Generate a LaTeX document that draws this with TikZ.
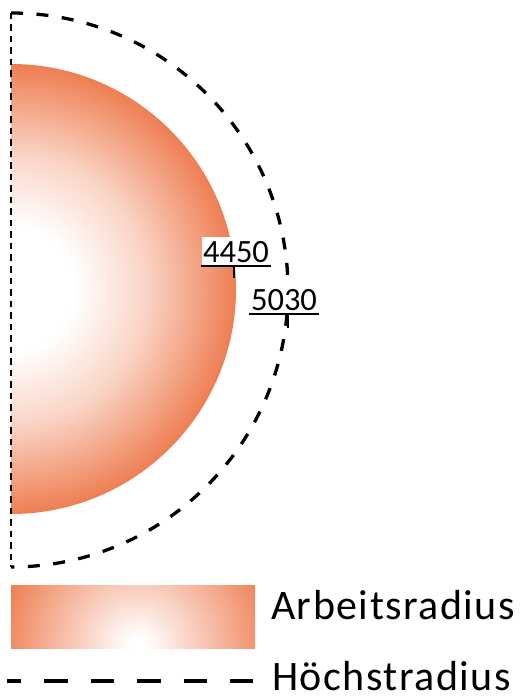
\documentclass[tikz,border=0pt]{standalone}
\usepackage{fontspec}
\setmainfont{Carlito}
\newfontfamily\legfont[LetterSpace=3.5]{Carlito}
\definecolor{edgeorange}{RGB}{238,126,82}
\pgfdeclareradialshading{discshade}{\pgfpoint{0bp}{0bp}}{color(0bp)=(white); color(7bp)=(white); color(15bp)=(edgeorange!33); color(25bp)=(edgeorange); color(50bp)=(edgeorange)}
\pgfdeclareradialshading{legshade}{\pgfpoint{0bp}{0bp}}{color(0bp)=(white); color(1.5bp)=(white); color(25bp)=(edgeorange); color(50bp)=(edgeorange)}
\begin{document}
\begin{tikzpicture}[x=1pt,y=-1pt,
  maxline/.style={line width=3.3pt, dash pattern=on 12pt off 13.5pt},
  axisline/.style={line width=1.6pt, dash pattern=on 6.5pt off 5pt},
  leglinestyle/.style={line width=4pt, dash pattern=on 23.5pt off 23pt, dash phase=9.5pt},
  numlabel/.style={fill=white, inner xsep=1.5pt, inner ysep=4pt, anchor=base, font=\fontsize{32.5}{36}\selectfont},
  legtext/.style={anchor=base west, inner sep=0pt, font=\legfont\fontsize{42}{48}\selectfont},
  uline/.style={line width=2pt},
  tick/.style={line width=1.5pt}]
\useasboundingbox (0,0) rectangle (526,700);
\coordinate (c0) at (11,289);
\coordinate (top) at (11,13);
\coordinate (bot) at (11,567);
% working radius half disc
\begin{scope}
  \clip (11,0) rectangle (300,600);
  \shade[shading=discshade] (c0) circle[radius=225pt];
\end{scope}
% maximum radius
\draw[maxline] (top) arc[start angle=90, end angle=-90, radius=277pt];
\draw[axisline] (top) -- (bot);
% labels
\node[numlabel] (lab1) at (236,262) {4450};
\coordinate (t1) at (234,278);
\draw[uline] (lab1.south west) -- (lab1.south east);
\draw[tick] (lab1.south -| t1) -- (t1);
\node[numlabel] (lab2) at (284,310) {5030};
\coordinate (t2) at (288,328);
\draw[uline] (lab2.south west) -- (lab2.south east);
\draw[tick] (lab2.south -| t2) -- (t2);
% legend
\begin{scope}
  \clip (11,585) rectangle (255,648);
  \shade[shading=legshade] (137,646) circle[radius=140pt];
\end{scope}
\node[legtext] (leg1) at (271,619.5) {Arbeitsradius};
\coordinate (l1) at (7,681);
\coordinate (l2) at (253,681);
\draw[leglinestyle] (l1) -- (l2);
\node[legtext] (leg2) at (272,690) {Höchstradius};
\end{tikzpicture}
\end{document}
